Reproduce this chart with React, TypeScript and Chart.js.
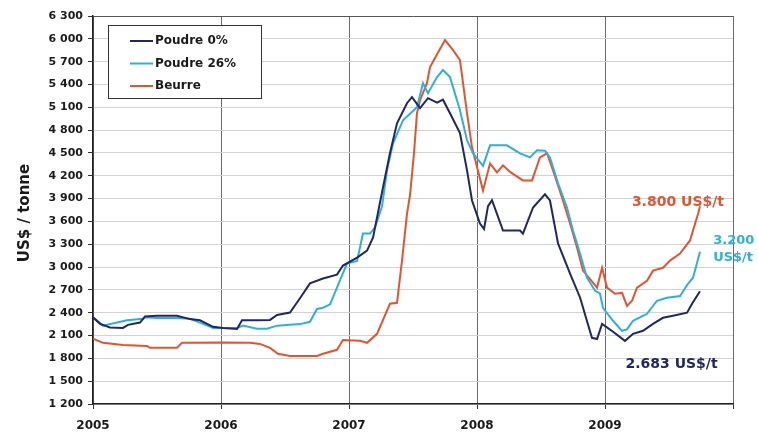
import React, { useEffect, useRef } from 'react';
import { Chart, registerables } from 'chart.js';

Chart.register(...registerables);

const yearMin = 2005;
const yearMax = 2010;
const yMin = 1200;
const yMax = 6300;
const yStep = 300;

const seriesLabels = ['Poudre 0%', 'Poudre 26%', 'Beurre'];
const seriesColors = ['#1f2768', '#2fb0d8', '#e3542f'];

const poudre0Dates = [
  2005.0, 2005.055, 2005.133, 2005.234, 2005.273, 2005.367, 2005.406, 2005.5, 2005.656, 2005.758,
  2005.836, 2005.938, 2006.016, 2006.125, 2006.164, 2006.281, 2006.383, 2006.438, 2006.539, 2006.617,
  2006.695, 2006.797, 2006.906, 2006.953, 2007.063, 2007.141, 2007.188, 2007.266, 2007.32, 2007.375,
  2007.453, 2007.492, 2007.555, 2007.617, 2007.688, 2007.734, 2007.789, 2007.867, 2007.922, 2007.961,
  2008.023, 2008.055, 2008.086, 2008.117, 2008.156, 2008.203, 2008.336, 2008.359, 2008.438, 2008.531,
  2008.57, 2008.633, 2008.727, 2008.805, 2008.898, 2008.938, 2008.977, 2009.063, 2009.156, 2009.219,
  2009.297, 2009.375, 2009.453, 2009.531, 2009.641, 2009.68, 2009.742,
];
const poudre0Values = [
  2340, 2254, 2205, 2200, 2240, 2270, 2350, 2360, 2360, 2316,
  2300, 2215, 2200, 2185, 2300, 2300, 2305, 2370, 2403, 2590,
  2785, 2850, 2900, 3020, 3124, 3217, 3390, 4050, 4495, 4890,
  5154, 5233, 5090, 5220, 5160, 5200, 5022, 4760, 4271, 3875,
  3572, 3500, 3800, 3880, 3700, 3480, 3480, 3440, 3783, 3955,
  3875, 3310, 2915, 2600, 2070, 2055, 2254, 2150, 2030, 2122,
  2162, 2254, 2333, 2360, 2400, 2518, 2683,
];

const poudre26Dates = [
  2005.0, 2005.078, 2005.188, 2005.266, 2005.391, 2005.406, 2005.5, 2005.656, 2005.758, 2005.836,
  2005.938, 2006.125, 2006.172, 2006.281, 2006.359, 2006.438, 2006.617, 2006.695, 2006.75, 2006.797,
  2006.852, 2006.906, 2006.984, 2007.063, 2007.109, 2007.164, 2007.203, 2007.258, 2007.297, 2007.344,
  2007.422, 2007.531, 2007.578, 2007.617, 2007.688, 2007.734, 2007.789, 2007.867, 2007.922, 2007.969,
  2008.047, 2008.102, 2008.234, 2008.336, 2008.414, 2008.469, 2008.531, 2008.57, 2008.633, 2008.703,
  2008.75, 2008.805, 2008.859, 2008.922, 2008.961, 2008.984, 2009.063, 2009.133, 2009.172, 2009.219,
  2009.328, 2009.406, 2009.484, 2009.586, 2009.648, 2009.688, 2009.742,
];
const poudre26Values = [
  2340, 2230, 2270, 2300, 2320, 2340, 2330, 2330, 2320, 2270,
  2200, 2200, 2230, 2190, 2190, 2230, 2250, 2280, 2450, 2465,
  2510, 2730, 3045, 3080, 3440, 3440, 3520, 3800, 4271, 4627,
  4930, 5100, 5418, 5286, 5497, 5590, 5497, 5062, 4667, 4495,
  4330, 4600, 4600, 4495, 4442, 4535, 4530, 4442, 4100, 3783,
  3480, 3177, 2860, 2690, 2650, 2465, 2294, 2162, 2180, 2294,
  2386, 2557, 2597, 2620, 2780, 2860, 3200,
];

const beurreDates = [
  2005.0, 2005.078, 2005.234, 2005.422, 2005.445, 2005.656, 2005.695, 2006.016, 2006.227, 2006.305,
  2006.383, 2006.445, 2006.539, 2006.75, 2006.797, 2006.906, 2006.953, 2007.086, 2007.141, 2007.219,
  2007.32, 2007.375, 2007.414, 2007.453, 2007.477, 2007.508, 2007.531, 2007.555, 2007.609, 2007.633,
  2007.672, 2007.75, 2007.813, 2007.867, 2007.922, 2007.961, 2008.047, 2008.102, 2008.156, 2008.203,
  2008.258, 2008.359, 2008.43, 2008.492, 2008.547, 2008.594, 2008.664, 2008.727, 2008.781, 2008.828,
  2008.938, 2008.977, 2009.016, 2009.078, 2009.133, 2009.172, 2009.211, 2009.25, 2009.328, 2009.375,
  2009.453, 2009.508, 2009.586, 2009.664, 2009.727, 2009.742,
];
const beurreValues = [
  2060, 2004, 1977, 1964, 1938, 1938, 2004, 2010, 2004, 1990,
  1938, 1860, 1832, 1832, 1860, 1912, 2040, 2030, 2004, 2122,
  2518, 2530, 3085, 3700, 3950, 4500, 5022, 5193, 5418, 5629,
  5747, 5984, 5853, 5720, 5022, 4574, 4007, 4363, 4245, 4337,
  4250, 4139, 4139, 4442, 4495, 4271, 3915, 3572, 3256, 2953,
  2730, 2990, 2730, 2650, 2660, 2490, 2557, 2730, 2820, 2953,
  2990, 3085, 3177, 3350, 3700, 3800,
];

const yAxisTitle = 'US$ / tonne';

const annotationTexts = ['3.800 US$/t', '3.200', 'US$/t', '2.683 US$/t'];
const annotationX = [2009.21, 2009.845, 2009.845, 2009.16];
const annotationY = [3850, 3350, 3130, 1715];
const annotationColor = ['#e3542f', '#2fb0d8', '#2fb0d8', '#1f2768'];
const annotationSize = [14, 13, 13, 14];

const FONT = '"DejaVu Sans", "Liberation Sans", Arial, sans-serif';

function fmtThousands(v: number): string {
  const th = Math.floor(v / 1000);
  const rest = String(Math.round(v % 1000)).padStart(3, '0');
  return th > 0 ? `${th} ${rest}` : String(v);
}

const overlayPlugin = {
  id: 'overlay',
  afterDraw(chart: any) {
    const ctx = chart.ctx as CanvasRenderingContext2D;
    const xs = chart.scales.x;
    const ys = chart.scales.y;

    // Legend box
    ctx.save();
    const bx = 108, by = 25, bw = 153, bh = 73;
    ctx.fillStyle = '#ffffff';
    ctx.fillRect(bx, by, bw, bh);
    ctx.strokeStyle = '#333';
    ctx.lineWidth = 1;
    ctx.strokeRect(bx + 0.5, by + 0.5, bw, bh);
    ctx.font = `bold 12px ${FONT}`;
    ctx.textBaseline = 'middle';
    ctx.textAlign = 'left';
    chart.data.datasets.forEach((ds: any, i: number) => {
      const ry = 41 + i * 22.5;
      ctx.strokeStyle = ds.borderColor;
      ctx.lineWidth = 2;
      ctx.beginPath();
      ctx.moveTo(130, ry);
      ctx.lineTo(153, ry);
      ctx.stroke();
      ctx.fillStyle = '#1a1a1a';
      ctx.fillText(ds.label, 155, ry);
    });
    ctx.restore();

    // Annotations
    ctx.save();
    ctx.textBaseline = 'middle';
    ctx.textAlign = 'left';
    annotationTexts.forEach((t, i) => {
      ctx.font = `bold ${annotationSize[i]}px ${FONT}`;
      ctx.fillStyle = annotationColor[i];
      ctx.fillText(t, xs.getPixelForValue(annotationX[i]), ys.getPixelForValue(annotationY[i]));
    });
    ctx.restore();

    // Y axis title
    ctx.save();
    ctx.font = `bold 15px ${FONT}`;
    ctx.fillStyle = '#1a1a1a';
    ctx.textAlign = 'center';
    ctx.textBaseline = 'middle';
    ctx.translate(25, (chart.chartArea.top + chart.chartArea.bottom) / 2 + 3);
    ctx.rotate(-Math.PI / 2);
    ctx.fillText(yAxisTitle, 0, 0);
    ctx.restore();
  },
};

export default function App() {
  const canvasRef = useRef<HTMLCanvasElement | null>(null);

  useEffect(() => {
    document.body.style.margin = '0';
    const canvas = canvasRef.current;
    if (!canvas) return;
    const makeData = (d: number[], v: number[]) => d.map((x, i) => ({ x, y: v[i] }));
    const chart = new Chart(canvas, {
      type: 'line',
      data: {
        datasets: [
          { label: seriesLabels[0], data: makeData(poudre0Dates, poudre0Values), borderColor: seriesColors[0] },
          { label: seriesLabels[1], data: makeData(poudre26Dates, poudre26Values), borderColor: seriesColors[1] },
          { label: seriesLabels[2], data: makeData(beurreDates, beurreValues), borderColor: seriesColors[2] },
        ].map((d) => ({ ...d, borderWidth: 2, pointRadius: 0, tension: 0, fill: false })),
      },
      options: {
        animation: false,
        responsive: false,
        maintainAspectRatio: false,
        layout: { padding: { top: 16, right: 25, left: 0, bottom: 0 } },
        plugins: { legend: { display: false }, tooltip: { enabled: false }, title: { display: false } },
        scales: {
          x: {
            type: 'linear',
            min: yearMin,
            max: yearMax,
            ticks: {
              stepSize: 1,
              autoSkip: false,
              maxRotation: 0,
              padding: 10,
              color: '#1a1a1a',
              font: { family: FONT, size: 12, weight: 'bold' },
              callback: (v: any) => (Number(v) < yearMax ? String(v) : ''),
            },
            grid: { color: '#6a6a6a', lineWidth: 1, tickColor: '#333', tickLength: 5 },
            border: { color: '#222', width: 1.5 },
            afterFit: (s: any) => { s.height = 33; },
          },
          y: {
            type: 'linear',
            min: yMin,
            max: yMax,
            ticks: {
              stepSize: yStep,
              autoSkip: false,
              padding: 5,
              color: '#1a1a1a',
              font: { family: FONT, size: 11, weight: 'bold' },
              callback: (v: any) => fmtThousands(Number(v)),
            },
            grid: {
              color: (c: any) => (c.tick && c.tick.value === yMax ? '#555' : '#d2d2d2'),
              lineWidth: 1,
              tickColor: '#333',
              tickLength: 5,
            },
            border: { color: '#222', width: 1.5 },
            afterFit: (s: any) => { s.width = 93; },
          },
        },
      },
      plugins: [overlayPlugin],
    } as any);
    return () => chart.destroy();
  }, []);

  return (
    <div style={{ width: 758, height: 437, position: 'relative', background: '#fff' }}>
      <canvas ref={canvasRef} width={758} height={437} style={{ display: 'block', width: 758, height: 437 }} />
    </div>
  );
}
